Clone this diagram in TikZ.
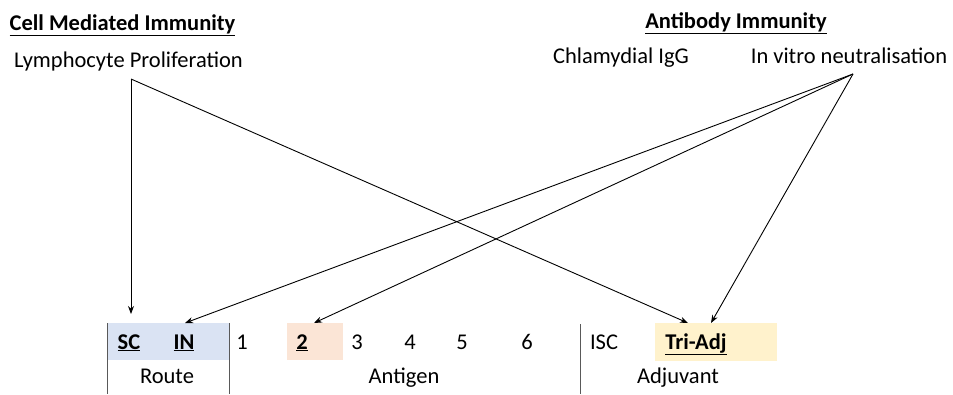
\documentclass[tikz,border=0pt]{standalone}
\usepackage{fontspec}
\setmainfont{Carlito}
\usetikzlibrary{arrows.meta}
\definecolor{routebg}{HTML}{DAE3F3}
\definecolor{antbg}{HTML}{FBE5D6}
\definecolor{adjbg}{HTML}{FFF2CC}
\definecolor{divline}{HTML}{595959}
\newcommand{\fsz}{\fontsize{22.5}{25}\selectfont}
\newcommand{\ul}[1]{\underline{#1}}
\begin{document}
\begin{tikzpicture}[x=1pt,y=-1pt,
  txt/.style={inner sep=0pt,anchor=base,font=\fsz},
  head/.style={txt,font=\fsz\bfseries},
  conn/.style={draw=black,line width=0.9pt,-{Stealth[length=8pt,width=6pt]}},
  divider/.style={draw=divline,line width=1pt}]
\useasboundingbox (0,0) rectangle (953,394);
% background boxes
\fill[routebg] (107,323) rectangle (229,360);
\fill[antbg] (287,323) rectangle (343,360);
\fill[adjbg] (655,323) rectangle (777,361);
% dividers
\draw[divider] (107,323) -- (107,394);
\draw[divider] (229,323) -- (229,394);
\draw[divider] (580,324) -- (580,394);
% headings
\node[head] (cmi) at (122.5,30) {\ul{Cell Mediated Immunity}};
\node[txt] (lym) at (128.5,67) {Lymphocyte Proliferation};
\node[head] (abi) at (736,28) {\ul{Antibody Immunity}};
\node[txt] (igg) at (621,63) {Chlamydial IgG};
\node[txt] (ivn) at (849,63) {In vitro neutralisation};
% bottom row
\node[head] (sc) at (129,349) {\ul{SC}};
\node[head] (in) at (184,349) {\ul{IN}};
\node[txt] (a1) at (242,349) {1};
\node[head] (a2) at (302,349) {\ul{2}};
\node[txt] (a3) at (357,349) {3};
\node[txt] (a4) at (410,349) {4};
\node[txt] (a5) at (462,349) {5};
\node[txt] (a6) at (527,349) {6};
\node[txt] (isc) at (604,349) {ISC};
\node[head] (tri) at (696,349) {\ul{Tri-Adj}};
\node[txt] (route) at (167,383) {Route};
\node[txt] (antigen) at (404,383) {Antigen};
\node[txt] (adjuvant) at (678,383) {Adjuvant};
% connector anchor points
\coordinate (lymS) at (131,79);
\coordinate (ivnS) at (853,74);
\coordinate (scT) at (131,314);
\coordinate (inT) at (185,323);
\coordinate (a2T) at (314,323);
\coordinate (triT1) at (688,323);
\coordinate (triT2) at (711,323);
% connectors
\draw[conn] (lymS) -- (scT);
\draw[conn] (lymS) -- (triT1);
\draw[conn] (ivnS) -- (inT);
\draw[conn] (ivnS) -- (a2T);
\draw[conn] (ivnS) -- (triT2);
\end{tikzpicture}
\end{document}
